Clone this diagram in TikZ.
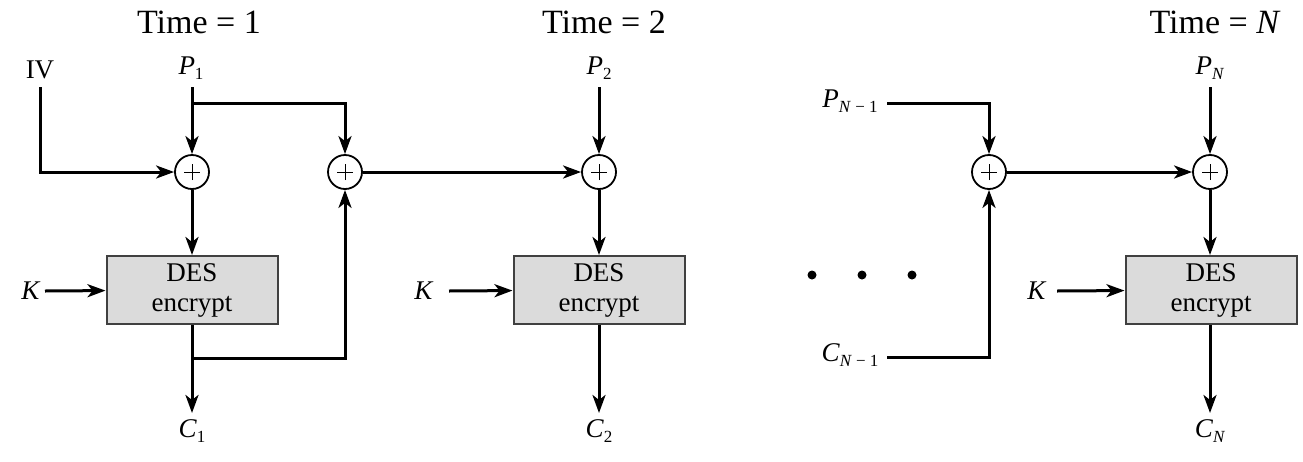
\documentclass[tikz,border=0pt]{standalone}
\usepackage{fontspec}
\setmainfont{Liberation Serif}
\usetikzlibrary{arrows.meta,calc}
\newcommand{\mysub}[1]{\raisebox{-0.45ex}{\fontsize{17}{17}\selectfont #1}}
\begin{document}
\begin{tikzpicture}[x=1pt,y=-1pt,
  line width=3pt,
  >={Stealth[length=18pt,width=13pt,inset=5pt]},
  xor/.style={circle, draw, line width=1.8pt, minimum size=34pt, inner sep=0pt,
    path picture={\draw[line width=1pt]
      ([xshift=-8pt]path picture bounding box.center) -- ([xshift=8pt]path picture bounding box.center)
      ([yshift=-8pt]path picture bounding box.center) -- ([yshift=8pt]path picture bounding box.center);}},
  desbox/.style={draw=black!75, line width=2pt, fill=black!14, minimum width=171pt,
    minimum height=68pt, align=center, inner sep=0pt, font=\fontsize{27}{30}\selectfont},
  lbl/.style={inner sep=0pt, font=\fontsize{27}{30}\selectfont},
  ttl/.style={inner sep=0pt, font=\fontsize{34}{36}\selectfont},
  dot/.style={circle, fill, inner sep=0pt, minimum size=9pt}]
\useasboundingbox (0,0) rectangle (1303,461);

% titles
\node[ttl] (t1) at (199,22) {Time = 1};
\node[ttl] (t2) at (604,22) {Time = 2};
\node[ttl] (tn) at (1215,22) {Time = \textit{N}};

% stage 1
\node[lbl] (iv) at (40,70) {IV};
\node[lbl] (p1) at (191,68) {\textit{P}\mysub{1}};
\node[xor] (x1) at (192,172) {};
\node[xor] (x2) at (345,172) {};
\node[desbox] (b1) at (192,290) {DES\\encrypt};
\node[lbl] (k1) at (31,291) {\textit{K}};
\node[lbl] (c1) at (192,431) {\textit{C}\mysub{1}};
\coordinate (ivs) at (40,87);
\coordinate (p1s) at (192,87);
\coordinate (br1) at (192,103);
\coordinate (k1s) at (45,291);
\coordinate (br2) at (192,358);
\coordinate (c1e) at (192,413);

\draw[->] (ivs) |- (x1);
\draw[->] (p1s) -- (x1);
\draw[->] (br1) -| (x2);
\draw[->] (x1) -- (b1);
\draw[->] (k1s) -- (b1);
\draw[->] (b1) -- (c1e);
\draw[->] (br2) -| (x2);

% stage 2
\node[lbl] (p2) at (599,68) {\textit{P}\mysub{2}};
\node[xor] (x3) at (599,172) {};
\node[desbox] (b2) at (599,290) {DES\\encrypt};
\node[lbl] (k2) at (424,291) {\textit{K}};
\node[lbl] (c2) at (599,431) {\textit{C}\mysub{2}};
\coordinate (p2s) at (599,87);
\coordinate (k2s) at (449,291);
\coordinate (c2e) at (599,413);

\draw[->] (x2) -- (x3);
\draw[->] (p2s) -- (x3);
\draw[->] (x3) -- (b2);
\draw[->] (k2s) -- (b2);
\draw[->] (b2) -- (c2e);

% dots
\node[dot] (d1) at (812,275) {};
\node[dot] (d2) at (862,275) {};
\node[dot] (d3) at (912,275) {};

% stage N
\node[lbl] (pn1) at (850,101) {\textit{P}\mysub{\textit{N} − 1}};
\node[lbl] (cn1) at (850,355) {\textit{C}\mysub{\textit{N} − 1}};
\node[xor] (x4) at (989,172) {};
\node[lbl] (pn) at (1210,68) {\textit{P}\mysub{\textit{N}}};
\node[xor] (xn) at (1210,172) {};
\node[desbox] (bn) at (1211,290) {DES\\encrypt};
\node[lbl] (kn) at (1037,291) {\textit{K}};
\node[lbl] (cn) at (1210,431) {\textit{C}\mysub{\textit{N}}};
\coordinate (pn1s) at (887,103);
\coordinate (cn1s) at (887,357);
\coordinate (pns) at (1210,87);
\coordinate (kns) at (1057,291);
\coordinate (cne) at (1210,413);

\draw[->] (pn1s) -| (x4);
\draw[->] (cn1s) -| (x4);
\draw[->] (x4) -- (xn);
\draw[->] (pns) -- (xn);
\draw[->] (xn) -- (xn |- bn.north);
\draw[->] (kns) -- (bn);
\draw[->] (xn |- bn.south) -- (cne);
\end{tikzpicture}
\end{document}
